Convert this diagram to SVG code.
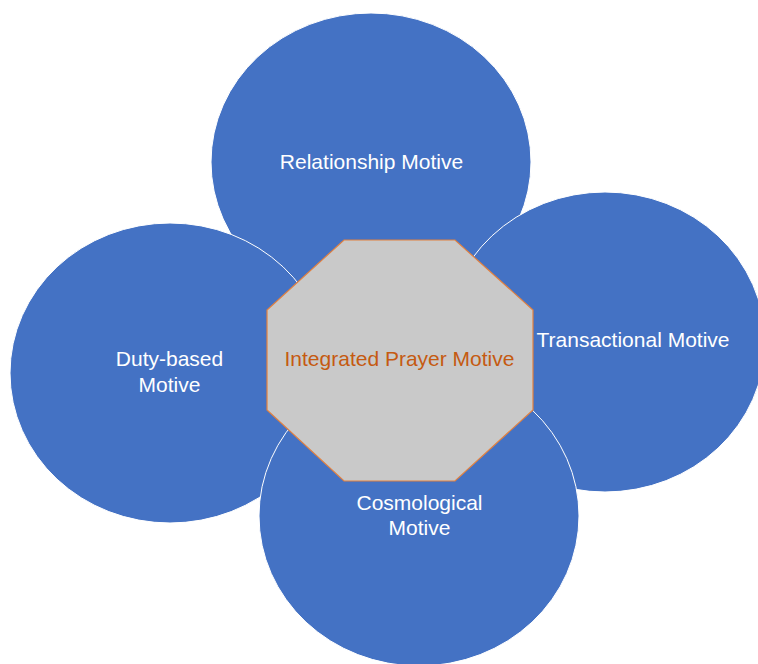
<svg xmlns="http://www.w3.org/2000/svg" width="758" height="664" viewBox="0 0 758 664">
  <style>
    .motive { fill: #4472C4; stroke: #FFFFFF; stroke-width: 1; }
    .label { font-family: "Liberation Sans", Arial, sans-serif; font-size: 21px; fill: #FFFFFF; text-anchor: middle; }
    .core { fill: #C9C9C9; stroke: #E2803F; stroke-width: 1.2; }
    .core-label { font-family: "Liberation Sans", Arial, sans-serif; font-size: 21px; fill: #C55A11; text-anchor: middle; }
  </style>
  <rect width="758" height="664" fill="#FFFFFF"/>

  <g id="relationship">
    <ellipse class="motive" cx="371" cy="162" rx="160" ry="149"/>
    <text class="label" x="371.5" y="169">Relationship Motive</text>
  </g>

  <g id="duty-based">
    <ellipse class="motive" cx="170" cy="373" rx="160" ry="150"/>
    <text class="label" x="169.5" y="366">Duty-based</text>
    <text class="label" x="169.5" y="392">Motive</text>
  </g>

  <g id="transactional">
    <ellipse class="motive" cx="605" cy="342" rx="160" ry="150"/>
    <text class="label" x="633" y="347">Transactional Motive</text>
  </g>

  <g id="cosmological">
    <ellipse class="motive" cx="419" cy="516" rx="160" ry="150"/>
    <text class="label" x="419.5" y="510">Cosmological</text>
    <text class="label" x="419.5" y="535">Motive</text>
  </g>

  <g id="integrated">
    <polygon class="core" points="344,240 455,240 533,310 533,410 455,481 344,481 267,410 267,310"/>
    <text class="core-label" x="399.5" y="366">Integrated Prayer Motive</text>
  </g>

  <g id="connectors"/>
</svg>
